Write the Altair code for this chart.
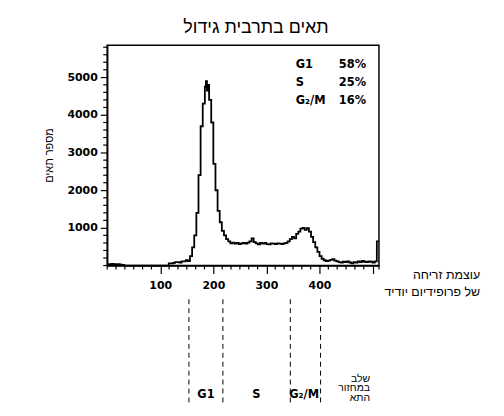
import altair as alt
import pandas as pd

# ---------------- data ----------------
CHANNEL = [0, 4, 8, 12, 16, 20, 24, 28, 32, 112,
           116, 120, 124, 128, 132, 136, 140, 144, 148, 152,
           156, 160, 164, 168, 172, 176, 180, 184, 186, 188,
           190, 192, 196, 200, 204, 208, 212, 216, 220, 224,
           228, 232, 236, 240, 244, 248, 252, 256, 260, 264,
           268, 272, 276, 280, 284, 288, 292, 296, 300, 304,
           308, 312, 316, 320, 324, 328, 332, 336, 340, 344,
           348, 352, 356, 360, 364, 368, 372, 376, 380, 384,
           388, 392, 396, 400, 404, 408, 412, 416, 420, 424,
           428, 432, 436, 440, 444, 448, 452, 456, 460, 464,
           468, 472, 476, 480, 484, 488, 492, 496, 500, 504,
           508, 512]
COUNT = [40, 30, 45, 35, 30, 40, 25, 15, 0, 0,
         60, 60, 70, 90, 90, 80, 110, 110, 140, 120,
         250, 480, 800, 1400, 2400, 3700, 4300, 4750, 4900, 4650,
         4800, 4400, 3800, 2700, 2000, 1450, 1150, 920, 800, 700,
         640, 590, 610, 580, 600, 570, 590, 600, 580, 610,
         640, 720, 620, 590, 560, 600, 580, 600, 570, 560,
         590, 580, 570, 590, 580, 570, 590, 600, 640, 700,
         760, 720, 840, 900, 980, 1000, 950, 990, 900, 760,
         620, 480, 360, 250, 180, 140, 120, 130, 150, 170,
         130, 110, 90, 80, 100, 90, 110, 80, 60, 90,
         80, 110, 90, 120, 100, 90, 110, 100, 80, 110,
         640, 640]

PHASES = ["G1", "S", "G₂/M"]
PERCENTS = ["58%", "25%", "16%"]
BOUNDARIES = [154, 218, 345, 402]
PHASE_CENTERS = [186, 281, 371]

Y_MAJOR = [1000, 2000, 3000, 4000, 5000]
Y_MINOR = [0, 200, 400, 600, 800, 1200, 1400, 1600, 1800,
           2200, 2400, 2600, 2800, 3200, 3400, 3600, 3800,
           4200, 4400, 4600, 4800, 5200, 5400, 5600, 5800]
X_MAJOR = [100, 200, 300, 400, 500]
X_MINOR = [0, 16.67, 33.33, 50, 66.67, 83.33,
           116.67, 133.33, 150, 166.67, 183.33,
           216.67, 233.33, 250, 266.67, 283.33,
           316.67, 333.33, 350, 366.67, 383.33,
           416.67, 433.33, 450, 466.67, 483.33, 512]

TITLE = "תאים בתרבית גידול"
Y_TITLE = "מספר תאים"
X_TITLE = ["עוצמת זריחה", "של פרופידיום יודיד"]
PHASE_TITLE = ["שלב", "במחזור", "התא"]

# ---------------- chart ----------------
W, H = 274, 222
FONT = "Liberation Sans"
NUMFONT = "DejaVu Sans"

xs = alt.Scale(domain=[0, 512], nice=False, zero=False)
ys = alt.Scale(domain=[0, 5850], nice=False)

hist = pd.DataFrame({"ch": CHANNEL, "n": COUNT})

x_axis = alt.Axis(
    values=X_MAJOR,
    grid=False,
    labelExpr="datum.value < 450 ? datum.label : ''",
    format="d",
    tickSize=8,
    labelPadding=6,
    labelOverlap=False,
    labelFlush=False,
)
y_axis = alt.Axis(
    values=Y_MAJOR,
    grid=False,
    format="d",
    tickSize=7,
    labelPadding=3,
    labelOverlap=False,
    labelFlush=False,
)

line = alt.Chart(hist).mark_line(
    interpolate="step-after", color="black", strokeWidth=1.8
).encode(
    x=alt.X("ch:Q", scale=xs, axis=x_axis, title=None),
    y=alt.Y("n:Q", scale=ys, axis=y_axis, title=None),
)

x_minor = alt.Chart(pd.DataFrame({"t": X_MINOR})).mark_rule(
    color="black", strokeWidth=1.2
).encode(
    x=alt.X("t:Q", scale=xs, title=None),
    y=alt.value(H),
    y2=alt.value(H + 4),
)
y_minor = alt.Chart(pd.DataFrame({"t": Y_MINOR})).mark_rule(
    color="black", strokeWidth=1.2
).encode(
    y=alt.Y("t:Q", scale=ys, title=None),
    x=alt.value(-4),
    x2=alt.value(0),
)

bounds = alt.Chart(pd.DataFrame({"b": BOUNDARIES})).mark_rule(
    color="black", strokeWidth=1, strokeDash=[5, 4]
).encode(
    x=alt.X("b:Q", scale=xs, title=None),
    y=alt.value(256),
    y2=alt.value(361),
)

phase_lbl = alt.Chart(pd.DataFrame({"c": PHASE_CENTERS, "p": PHASES})).mark_text(
    font=NUMFONT, fontSize=11.5, fontWeight="bold", color="black", baseline="middle", align="center"
).encode(
    x=alt.X("c:Q", scale=xs, title=None),
    y=alt.value(353),
    text="p:N",
)

layers = [line, x_minor, y_minor, bounds, phase_lbl]

# legend box text (top right)
for i, (ph, pc) in enumerate(zip(PHASES, PERCENTS)):
    yy = 20 + 18 * i
    layers.append(
        alt.Chart(pd.DataFrame({"t": [ph]})).mark_text(
            font=NUMFONT, fontSize=11.5, fontWeight="bold", color="black", align="left", baseline="middle"
        ).encode(x=alt.value(190), y=alt.value(yy), text="t:N")
    )
    layers.append(
        alt.Chart(pd.DataFrame({"t": [pc]})).mark_text(
            font=NUMFONT, fontSize=11.5, fontWeight="bold", color="black", align="right", baseline="middle"
        ).encode(x=alt.value(261), y=alt.value(yy), text="t:N")
    )

# title
layers.append(
    alt.Chart(pd.DataFrame({"t": [TITLE]})).mark_text(
        font=FONT, fontSize=18, color="black", align="center", baseline="middle"
    ).encode(x=alt.value(150), y=alt.value(-17), text="t:N")
)
# y title
layers.append(
    alt.Chart(pd.DataFrame({"t": [Y_TITLE]})).mark_text(
        font=FONT, fontSize=11, color="black", align="center", baseline="middle", angle=270
    ).encode(x=alt.value(-58), y=alt.value(111), text="t:N")
)
# x title (two lines, right side)
for i, line_txt in enumerate(X_TITLE):
    layers.append(
        alt.Chart(pd.DataFrame({"t": [line_txt]})).mark_text(
            font=FONT, fontSize=12.5, color="black", align="right", baseline="middle"
        ).encode(x=alt.value(376), y=alt.value(232 + 17 * i), text="t:N")
    )
# phase title (three lines)
for i, line_txt in enumerate(PHASE_TITLE):
    layers.append(
        alt.Chart(pd.DataFrame({"t": [line_txt]})).mark_text(
            font=FONT, fontSize=10.5, color="black", align="right", baseline="middle"
        ).encode(x=alt.value(265), y=alt.value(336 + 10 * i), text="t:N")
    )

chart = alt.layer(*layers).properties(
    width=W,
    height=H,
    autosize=alt.AutoSizeParams(type="none"),
    padding={"left": 100, "top": 36, "right": 118, "bottom": 142},
).configure_view(
    stroke="black", strokeWidth=1.5
).configure_axis(
    labelFont=NUMFONT,
    labelFontSize=11,
    labelFontWeight="bold",
    labelColor="black",
    tickColor="black",
    tickWidth=1.2,
    domainColor="black",
    domainWidth=1.5,
)

chart.save("out.html", embed_options={"renderer": "svg", "actions": False})
